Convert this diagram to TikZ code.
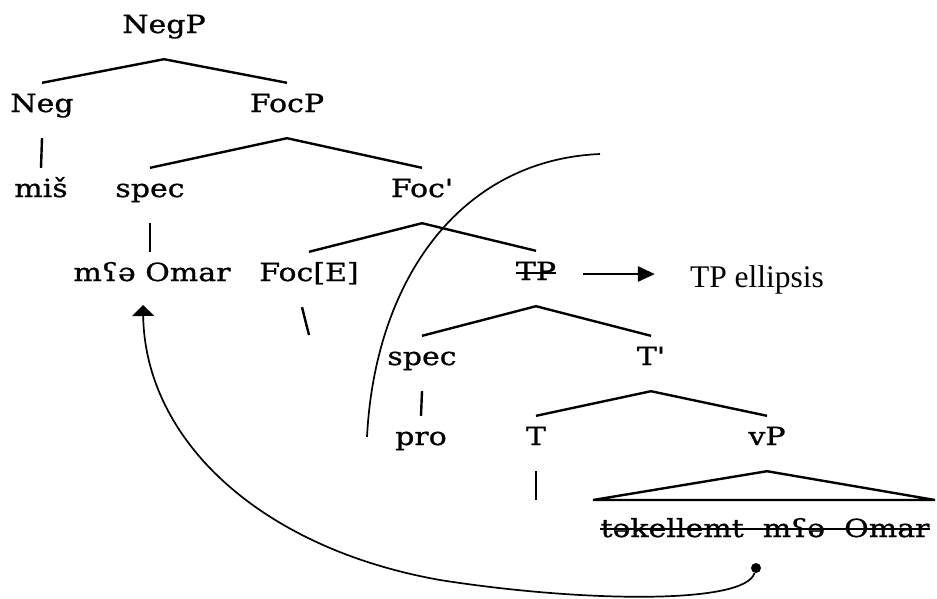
\documentclass[tikz,border=0pt]{standalone}
\usepackage{fontspec}
\usepackage{graphicx}
\setmainfont{DejaVu Serif}
\newfontfamily\treefont[FakeBold=0.8]{DejaVu Serif}
\newfontfamily\tnr{Liberation Serif}
\usetikzlibrary{arrows.meta,calc}
\newcommand{\stretchtxt}[1]{\scalebox{1.2}[1]{#1}}
\tikzset{
  lab/.style={font=\treefont\fontsize{25}{29}\selectfont, inner xsep=0pt, text height=17pt, text depth=14pt, inner ysep=12pt, anchor=base},
  br/.style={line width=2.4pt},
  mv/.style={line width=1.7pt},
  strike/.style={line width=1.5pt}
}
\begin{document}
\begin{tikzpicture}[x=1pt,y=-1pt]
\path[use as bounding box, fill=white] (0,0) rectangle (937,598);
% labels
\node[lab] (NegP) at (164,33) {\stretchtxt{NegP}};
\node[lab] (Neg) at (42,112) {\stretchtxt{Neg}};
\node[lab] (FocP) at (287,112) {\stretchtxt{FocP}};
\node[lab] (mis) at (41,197) {\stretchtxt{miš}};
\node[lab] (spec) at (150,197) {\stretchtxt{spec}};
\node[lab] (Focbar) at (422,197) {\stretchtxt{Foc'}};
\node[lab] (mOmar) at (152,281) {\stretchtxt{mʕə Omar}};
\node[lab] (FocE) at (309,281) {\stretchtxt{Foc[E]}};
\node[lab] (TP) at (536,280) {\stretchtxt{TP}};
\node[lab] (spec2) at (422,365) {\stretchtxt{spec}};
\node[lab] (Tbar) at (651,365) {\stretchtxt{T'}};
\node[lab] (pro) at (421,445) {\stretchtxt{pro}};
\node[lab] (T) at (536,445) {\stretchtxt{T}};
\node[lab] (vP) at (767,445) {\stretchtxt{vP}};
\node[lab] (bot) at (765,537) {\stretchtxt{təkellemt\ \ mʕə\ \ Omar}};
\node[font=\tnr\fontsize{31.5}{35}\selectfont, inner xsep=0pt, anchor=base] (ell) at (757,287) {TP ellipsis};
% branches
\draw[br] (Neg.north) -- (NegP.south) -- (FocP.north);
\draw[br] (Neg.south) -- (mis.north);
\draw[br] (spec.north) -- (FocP.south) -- (Focbar.north);
\draw[br] (spec.south) -- (spec.south |- mOmar.north);
\draw[br] (FocE.north) -- (Focbar.south) -- (TP.north);
\coordinate (FocEend) at (309,335);
\draw[br] ([xshift=-7pt]FocE.south) -- (FocEend);
\draw[br] (spec2.north) -- (TP.south) -- (Tbar.north);
\draw[br] (spec2.south) -- (pro.north);
\draw[br] (T.north) -- (Tbar.south) -- (vP.north);
\coordinate (Tend) at (536,500);
\draw[br] (T.south) -- (Tend);
\coordinate (triL) at (593,500);
\coordinate (triR) at (935,500);
\draw[br, line join=miter] (triL) -- (vP.south) -- (triR) -- cycle;
% strike-throughs
\draw[strike] ([yshift=7pt]TP.base west) -- ([yshift=7pt]TP.base east);
\draw[strike] ([yshift=8pt]bot.base west) -- ([yshift=8pt]bot.base east);
% TP arrow
\draw[line width=2.6pt, -{Triangle[width=15pt,length=17pt]}] ([xshift=27pt,yshift=6pt]TP.base east) -- ([xshift=-35pt,yshift=13pt]ell.base west);
% big arc
\coordinate (arcA) at (367,437);
\coordinate (arcB) at (600,154);
\draw[mv] (arcA) .. controls (375,280) and (460,160) .. (arcB);
% movement
\node[circle, fill, inner sep=0pt, minimum size=10pt] (trace) at (756,568) {};
\coordinate (landing) at (143,305);
\draw[mv, -{Triangle[width=22pt,length=11pt]}] (trace) .. controls (745,605) and (580,602) .. (440,580) .. controls (260,548) and (145,440) .. (landing);
\end{tikzpicture}
\end{document}
